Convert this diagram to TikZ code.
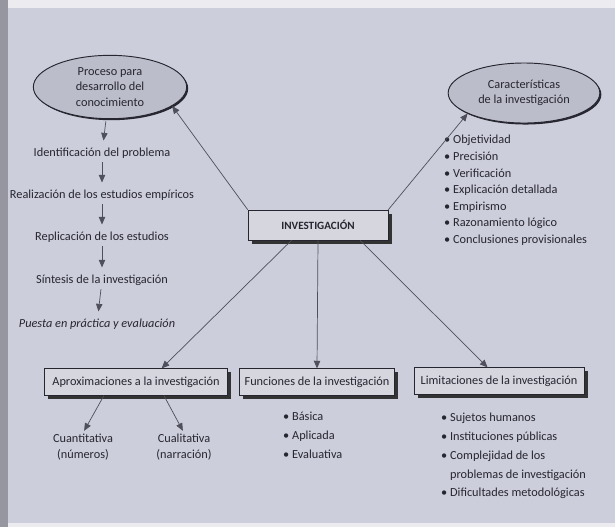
\documentclass[tikz,border=0pt]{standalone}
\usepackage{fontspec}
\setmainfont{Carlito}
\usetikzlibrary{arrows.meta,shapes.geometric,shadows}
\definecolor{pagebg}{RGB}{205,206,219}
\definecolor{edgebg}{RGB}{236,236,240}
\definecolor{spine}{RGB}{150,150,160}
\definecolor{ink}{RGB}{38,38,48}
\definecolor{wire}{RGB}{80,80,92}
\definecolor{ovalfill}{RGB}{188,189,202}
\definecolor{boxfill}{RGB}{214,214,223}
\begin{document}
\begin{tikzpicture}
  [x=0.03cm,y=-0.03cm,font=\fontsize{10.5}{13}\selectfont,
   every node/.style={text=ink},
   oval/.style={ellipse,draw=ink,line width=0.8pt,fill=ovalfill,align=center,inner sep=0pt,
     drop shadow={shadow xshift=1.3pt,shadow yshift=-1.3pt,fill=ink,opacity=1}},
   topic/.style={rectangle,draw=ink,line width=0.5pt,fill=boxfill,inner sep=0pt,
     drop shadow={shadow xshift=3pt,shadow yshift=-3pt,fill=black!80,opacity=1}},
   item/.style={inner sep=1pt},
   list/.style={align=left,anchor=north west,inner sep=0pt},
   arr/.style={draw=wire,line width=0.6pt,-{Triangle[length=6.5pt,width=5.5pt]}},
   step arr/.style={arr,shorten <=2pt,shorten >=5pt}]

  % page
  \useasboundingbox (0,0) rectangle (615,527);
  \fill[pagebg] (0,0) rectangle (615,527);
  \fill[edgebg] (0,0) rectangle (615,8);
  \fill[edgebg] (0,523) rectangle (615,527);
  \fill[spine] (0,0) rectangle (8,527);

  % nodes
  \node[topic,minimum width=4.2cm,minimum height=0.9cm,font=\fontsize{9.5}{11}\selectfont\bfseries] (inv) at (318,225) {INVESTIGACIÓN};
  \node[oval,minimum width=4.6cm,minimum height=1.9cm] (proc) at (110,87) {Proceso para\\desarrollo del\\conocimiento};
  \node[oval,minimum width=4.55cm,minimum height=1.8cm] (car) at (524,93) {Características\\de la investigación};

  \node[item] (p1) at (102,153) {Identificación del problema};
  \node[item] (p2) at (102,195) {Realización de los estudios empíricos};
  \node[item] (p3) at (102,237) {Replicación de los estudios};
  \node[item] (p4) at (102,280) {Síntesis de la investigación};
  \node[item,font=\fontsize{10.5}{13}\selectfont\itshape] (p5) at (97,324) {Puesta en práctica y evaluación};

  \node[list,font=\fontsize{10.5}{14.2}\selectfont] (carlist) at (444,135)
    {• Objetividad\\• Precisión\\• Verificación\\• Explicación detallada\\• Empirismo\\• Razonamiento lógico\\• Conclusiones provisionales};

  \node[topic,minimum width=5.5cm,minimum height=0.8cm] (aprox) at (136,382) {Aproximaciones a la investigación};
  \node[topic,minimum width=4.65cm,minimum height=0.8cm] (func) at (317,382) {Funciones de la investigación};
  \node[topic,minimum width=5.1cm,minimum height=0.8cm] (lim) at (499,381) {Limitaciones de la investigación};

  \node[item,align=center] (cuan) at (83,447) {Cuantitativa\\(números)};
  \node[item,align=center] (cual) at (184,447) {Cualitativa\\(narración)};

  \node[list,font=\fontsize{10.5}{16}\selectfont] (funlist) at (283,412) {• Básica\\• Aplicada\\• Evaluativa};
  \node[list,font=\fontsize{10.5}{16}\selectfont] (limlist) at (441,413)
    {• Sujetos humanos\\• Instituciones públicas\\• Complejidad de los\\\phantom{• }problemas de investigación\\• Dificultades metodológicas};

  % connectors
  \draw[arr] (inv.north west) -- (proc.-17);
  \draw[arr] (inv.north east) -- (car.200);
  \draw[arr] (inv.-150) -- (aprox.28);
  \draw[arr] (inv.south) -- (func.north);
  \draw[arr] (inv.-20) -- (lim.130);

  \draw[step arr] (proc) -- (p1);
  \foreach \from/\to in {p1/p2,p2/p3,p3/p4,p4/p5}
    \draw[step arr] (\from) -- (\to);

  \draw[arr,shorten >=2pt] (aprox.-157) -- (cuan.north);
  \draw[arr,shorten >=2pt] (aprox.-26) -- (cual.north);

\end{tikzpicture}
\end{document}
